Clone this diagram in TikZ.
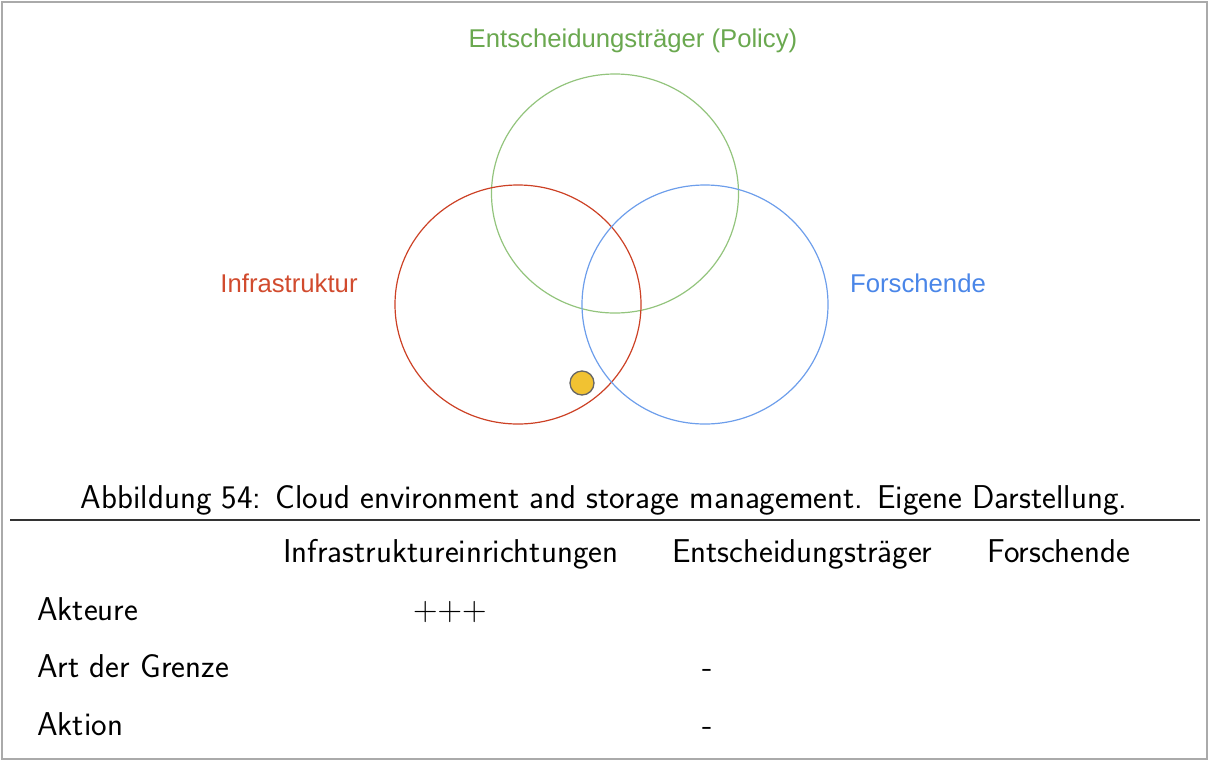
\documentclass[tikz,border=0pt]{standalone}
\usepackage{fontspec}
\newfontfamily\arialf{Liberation Sans}
\definecolor{cred}{HTML}{CC4125}
\definecolor{cgreen}{HTML}{93C47D}
\definecolor{cblue}{HTML}{6D9EEB}
\definecolor{tred}{HTML}{D14B2E}
\definecolor{tgreen}{HTML}{6AA84F}
\definecolor{tblue}{HTML}{4A86E8}
\definecolor{cyellow}{HTML}{F1C232}
\definecolor{frame}{HTML}{AAAAAA}
\tikzset{
  venn/.style={line width=1.2pt},
  vlabel/.style={font=\arialf\fontsize{25.7}{30}\selectfont, inner sep=0pt, anchor=base},
  tabtxt/.style={font=\sffamily\fontsize{33}{40}\selectfont, inner sep=0pt, anchor=base west},
}
\begin{document}
\begin{tikzpicture}[x=1pt,y=-1pt]
\useasboundingbox (0,0) rectangle (1209,761);
\draw[frame, line width=1.5pt] (2,2) rectangle (1207,759);
% circles
\draw[venn, cgreen] (615,193.5) ellipse [x radius=123.5, y radius=119.5];
\draw[venn, cred] (518,304.5) ellipse [x radius=123, y radius=119.5];
\draw[venn, cblue] (705,304.5) ellipse [x radius=123, y radius=119.5];
\node[circle, fill=cyellow, draw=black!60, line width=1.3pt, minimum size=24pt, inner sep=0pt] (dot) at (582,383) {};
% labels
\node[vlabel, tgreen] (lpol) at (633,47) {Entscheidungsträger (Policy)};
\node[vlabel, tred] (linf) at (289,292) {Infrastruktur};
\node[vlabel, tblue] (lfor) at (918,292) {Forschende};
% caption
\node[tabtxt, anchor=base] (cap) at (604,508) {Abbildung 54: Cloud environment and storage management. Eigene Darstellung.};
\coordinate (rl) at (10,520);
\coordinate (rr) at (1200,520);
\draw[black!80, line width=1.2pt] (rl) -- (rr);
% table
\node[tabtxt] (h1) at (283,562) {Infrastruktureinrichtungen};
\node[tabtxt] (h2) at (672,562) {Entscheidungsträger};
\node[tabtxt] (h3) at (987,562) {Forschende};
\node[tabtxt] (r1) at (37,620) {Akteure};
\node[tabtxt] (r2) at (37,677) {Art der Grenze};
\node[tabtxt] (r3) at (37,735) {Aktion};
\node[tabtxt, font=\rmfamily\fontsize{34}{40}\selectfont] (v1) at (413,620) {+++};
\node[tabtxt] (v2) at (702,677) {-};
\node[tabtxt] (v3) at (702,735) {-};
\end{tikzpicture}
\end{document}
